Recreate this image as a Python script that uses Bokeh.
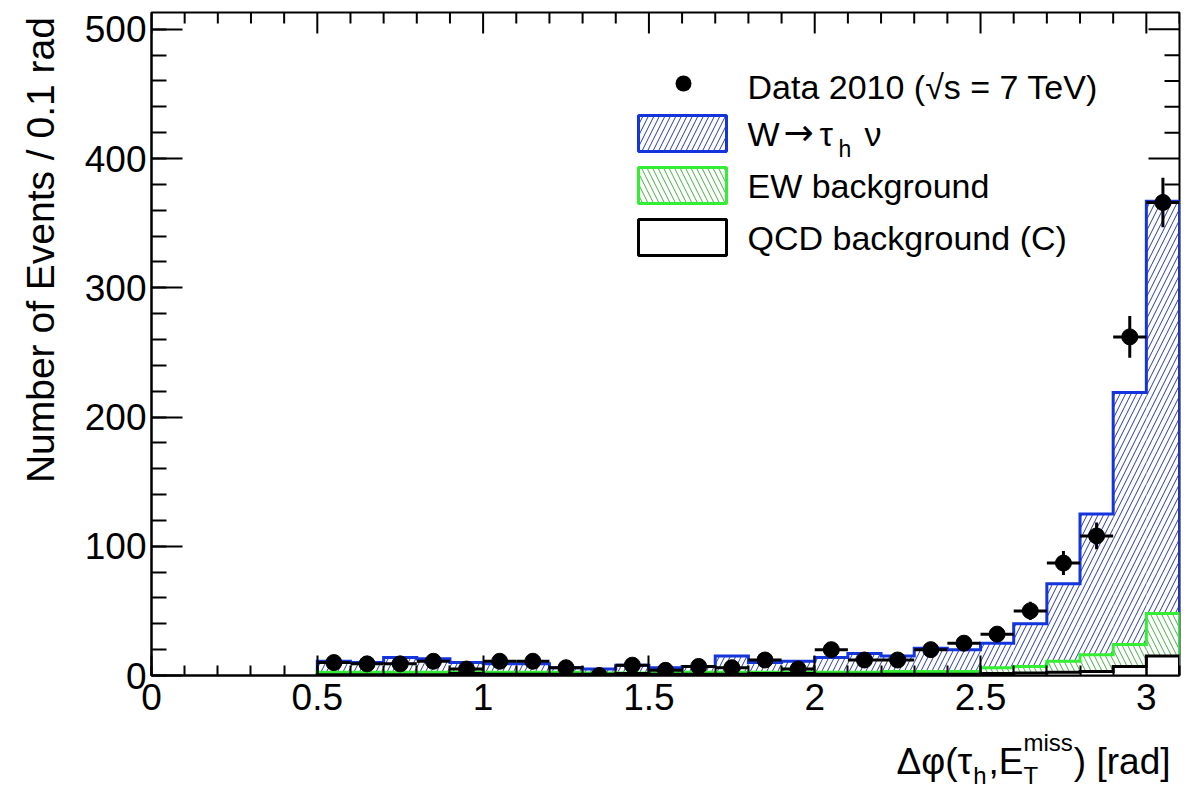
import numpy as np
from bokeh.plotting import figure
from bokeh.layouts import column, row
from bokeh.models import (Range1d, FixedTicker, NumeralTickFormatter, Label,
                          BoxAnnotation)
from bokeh.core.properties import value
from bokeh.embed import file_html
from bokeh.resources import INLINE

# ---------------- data ----------------
bin_edges = [0.5, 0.6, 0.7, 0.8, 0.9, 1.0, 1.1, 1.2, 1.3, 1.4, 1.5, 1.6, 1.7, 1.8,
             1.9, 2.0, 2.1, 2.2, 2.3, 2.4, 2.5, 2.6, 2.7, 2.8, 2.9, 3.0, 3.1]
qcd_bkg = [0.5, 0.5, 0.5, 0.5, 1.5, 1.0, 1.0, 1.0, 1.0, 1.5, 1.0, 1.0, 1.0,
           1.5, 1.5, 1.0, 1.0, 1.0, 1.0, 1.0, 1.5, 2.0, 2.5, 3.0, 7.0, 15.0]
ew_bkg = [2.0, 2.0, 2.0, 2.0, 1.0, 1.5, 1.5, 1.5, 1.0, 0.5, 1.0, 1.5, 1.5,
          1.0, 1.0, 1.5, 1.5, 2.0, 2.0, 2.0, 4.5, 5.0, 8.5, 13.0, 17.0, 33.0]
w_taunu = [8.5, 7.5, 11.5, 10.5, 7.5, 6.5, 6.5, 3.5, 3.0, 6.0, 4.0, 4.5, 12.5,
           7.5, 8.5, 11.5, 14.5, 12.0, 18.0, 17.0, 19.0, 33.0, 60.0, 109.0, 195.0, 319.0]
data_2010 = [10, 9, 9, 11, 5, 11, 11, 6, 0, 8, 4, 7, 6, 12, 5, 20, 12, 12, 20,
             25, 32, 50, 87, 108, 262, 366]

x_major_ticks = [0, 0.5, 1.0, 1.5, 2.0, 2.5, 3.0]
y_major_ticks = [0, 100, 200, 300, 400, 500]

legend_data = "Data 2010 (\u221as = 7 TeV)"
legend_w = ["W", "\u2192", "\u03c4", "h", "\u03bd"]
legend_ew = "EW background"
legend_qcd = "QCD background (C)"
y_title = "Number of Events / 0.1 rad"
x_title = ["\u0394\u03c6(\u03c4", "h", ",E", "T", "miss", ") [rad]"]

# ---------------- derived ----------------
edges = np.array(bin_edges)
lo, hi = edges[:-1], edges[1:]
centers = 0.5 * (lo + hi)
s_qcd = np.array(qcd_bkg)
s_ew = s_qcd + np.array(ew_bkg)
s_tot = s_ew + np.array(w_taunu)
d = np.array(data_2010, dtype=float)
derr = np.sqrt(d)


def step_path(vals):
    xs, ys = [edges[0]], [0.0]
    for i, v in enumerate(vals):
        xs += [edges[i], edges[i + 1]]
        ys += [v, v]
    xs.append(edges[-1])
    ys.append(0.0)
    return xs, ys


FONT = "Liberation Sans"
BLUE = "#1434dc"
BLUE_H = "#2a3a9c"
GREEN = "#33ee33"
GREEN_H = "#45b045"

# layout in canvas pixels
W, H_MAIN, H_XT, W_YT = 1201, 730, 60, 70
FL, FR, FT, FB = 151, 1179, 12, 675
XMAX, YMAX = 3.1, 513.0


def bare_strip(w, h, xr, yr):
    f = figure(width=w, height=h, x_range=xr, y_range=yr, output_backend="svg",
               toolbar_location=None, title_location=None, min_border=0,
               x_axis_location=None, y_axis_location=None)
    f.grid.visible = False
    f.outline_line_color = None
    f.background_fill_color = "white"
    f.border_fill_color = "white"
    return f


p = figure(width=W - W_YT, height=H_MAIN, x_range=Range1d(0, XMAX), y_range=Range1d(0, YMAX),
           output_backend="svg", toolbar_location=None, title_location=None,
           min_border_left=FL - W_YT, min_border_right=W - FR,
           min_border_top=FT, min_border_bottom=H_MAIN - FB)
p.xgrid.visible = False
p.ygrid.visible = False
p.outline_line_color = "black"
p.outline_line_width = 2
p.background_fill_color = "white"
p.border_fill_color = "white"

x_minor = list(np.round(np.arange(0, XMAX + 0.01, 0.1), 2))
y_minor = list(range(0, 520, 20))
xticker = FixedTicker(ticks=x_major_ticks, minor_ticks=x_minor)
yticker = FixedTicker(ticks=y_major_ticks, minor_ticks=y_minor)


def style_axis(ax, major_in, minor_in):
    ax.major_tick_in = major_in
    ax.major_tick_out = 0
    ax.minor_tick_in = minor_in
    ax.minor_tick_out = 0
    ax.axis_line_width = 2
    ax.axis_line_color = "black"
    ax.major_tick_line_width = 2
    ax.minor_tick_line_width = 2
    ax.major_tick_line_color = "black"
    ax.minor_tick_line_color = "black"
    ax.major_label_text_font = FONT
    ax.major_label_text_font_size = "37px"
    ax.major_label_text_color = "black"


xb = p.below[0]
xb.ticker = xticker
xb.formatter = NumeralTickFormatter(format="0.[0]")
style_axis(xb, 20, 10)
xb.major_label_standoff = 8

yl = p.left[0]
yl.ticker = yticker
style_axis(yl, 31, 15)
yl.major_label_standoff = 5

# ticks on top and right edges (pixel lengths converted to data units)
dx_px = XMAX / (FR - FL)
dy_px = YMAX / (FB - FT)
x_min_only = [t for t in x_minor if min(abs(t - m) for m in x_major_ticks) > 1e-6]
y_min_only = [t for t in y_minor if t not in y_major_ticks]
p.segment(x0=x_major_ticks, x1=x_major_ticks, y0=[YMAX] * len(x_major_ticks),
          y1=[YMAX - 21 * dy_px] * len(x_major_ticks), line_color="black", line_width=2)
p.segment(x0=x_min_only, x1=x_min_only, y0=[YMAX] * len(x_min_only),
          y1=[YMAX - 11 * dy_px] * len(x_min_only), line_color="black", line_width=2)
p.segment(x0=[XMAX] * len(y_major_ticks), x1=[XMAX - 31 * dx_px] * len(y_major_ticks),
          y0=y_major_ticks, y1=y_major_ticks, line_color="black", line_width=2)
p.segment(x0=[XMAX] * len(y_min_only), x1=[XMAX - 15 * dx_px] * len(y_min_only),
          y0=y_min_only, y1=y_min_only, line_color="black", line_width=2)

# ---------------- histograms ----------------
bottom0 = np.zeros_like(lo)
p.quad(left=lo, right=hi, bottom=bottom0, top=s_tot, fill_color="white", fill_alpha=1,
       line_alpha=0, hatch_pattern="/", hatch_color=BLUE_H, hatch_scale=11, hatch_weight=1)
bx, by = step_path(s_tot)
p.line(bx, by, line_color=BLUE, line_width=3, line_join="miter")

p.quad(left=lo, right=hi, bottom=bottom0, top=s_ew, fill_color="white", fill_alpha=1,
       line_alpha=0, hatch_pattern="\\", hatch_color=GREEN_H, hatch_scale=11, hatch_weight=1)
gx, gy = step_path(s_ew)
p.line(gx, gy, line_color=GREEN, line_width=3, line_join="miter")

p.quad(left=lo, right=hi, bottom=bottom0, top=s_qcd, fill_color="white", fill_alpha=1,
       line_alpha=0)
qx, qy = step_path(s_qcd)
p.line(qx, qy, line_color="black", line_width=3, line_join="miter")

# ---------------- data points ----------------
p.segment(x0=lo, x1=hi, y0=d, y1=d, line_color="black", line_width=3)
p.segment(x0=centers, x1=centers, y0=d - derr, y1=d + derr, line_color="black", line_width=3)
p.scatter(centers, d, size=16, marker="circle", fill_color="black", line_color="black")


# ---------------- legend (layout in canvas px -> frame screen) ----------------
def fx(cx):
    return cx - FL


def fy(cy):
    return FB - cy


def lab(text, cx, cy, size, align="left", baseline="middle", font=FONT):
    p.add_layout(Label(x=fx(cx), y=fy(cy), x_units="screen", y_units="screen", text=text,
                       text_font=font, text_font_size=f"{size}px", text_color="black",
                       text_align=align, text_baseline=baseline))


TX = 747
rows = [86, 133, 185, 237]
LS = 34
p.add_layout(BoxAnnotation(left=fx(675), right=fx(691), top=fy(75), bottom=fy(91),
                           left_units="screen", right_units="screen", top_units="screen",
                           bottom_units="screen", fill_color="black", fill_alpha=1,
                           line_alpha=0, border_radius=8))
lab(legend_data, TX, rows[0], LS)

box_specs = [
    (rows[1], BLUE, "/", BLUE_H),
    (rows[2], GREEN, "\\", GREEN_H),
    (rows[3], "black", None, None),
]
for cy, lc, hp, hc in box_specs:
    kw = dict(left=fx(638), right=fx(726), top=fy(cy - 18), bottom=fy(cy + 18),
              left_units="screen", right_units="screen", top_units="screen",
              bottom_units="screen", fill_color="white", fill_alpha=1,
              line_color=lc, line_width=3, line_alpha=1)
    if hp:
        kw.update(hatch_pattern=hp, hatch_color=hc, hatch_scale=11, hatch_weight=1)
    p.add_layout(BoxAnnotation(**kw))

lab(legend_w[0], TX, rows[1], LS)
lab(legend_w[1], 783, rows[1] - 1, 36, font="DejaVu Sans")
lab(legend_w[2], 819, rows[1], LS)
lab(legend_w[3], 838, rows[1] + 15, 23)
lab(legend_w[4], 864, rows[1], LS)
lab(legend_ew, TX, rows[2], LS)
lab(legend_qcd, TX, rows[3], LS)

# ---------------- y-axis title (strip on the left) ----------------
py = bare_strip(W_YT, H_MAIN, Range1d(0, W_YT), Range1d(H_MAIN, 0))
py.text(x=[40], y=[5], text=[y_title], angle=np.pi / 2, text_font=value(FONT),
        text_font_size=value("39px"), text_color="black", text_align="right",
        text_baseline="middle")

# ---------------- x-axis title (strip below) ----------------
pt = bare_strip(W, H_XT, Range1d(0, W), Range1d(H_MAIN + H_XT, H_MAIN))

ADV = {'h': .556, ',': .278, 'E': .667, 'T': .611, 'm': .833, 'i': .222, 's': .5,
       ')': .333, ' ': .278, '[': .278, ']': .278, 'r': .333, 'a': .556, 'd': .556}


def tw(s, size):
    return sum(ADV.get(c, .556) for c in s) * size


MS, SS = 37, 24
R = 1170
Y_MAIN, Y_SUB, Y_SUP = 761, 775, 742      # vertical centres of the text rows
x_r = R - tw(x_title[5], MS)            # ") [rad]" left edge
x_sup = x_r - 1 - tw(x_title[4], SS)    # "miss" / "T" left edge
x_cE = x_sup                            # ",E" right edge
x_h = x_cE - tw(x_title[2], MS) - 2     # "h" right edge
x_l = x_h - tw("h", SS) - 1             # "Δφ(τ" right edge

pieces = [
    (x_title[0], x_l, Y_MAIN, MS, "right"),
    (x_title[1], x_h, Y_SUB, SS, "right"),
    (x_title[2], x_cE, Y_MAIN, MS, "right"),
    (x_title[3], x_sup, Y_SUB, SS, "left"),
    (x_title[4], x_sup, Y_SUP, SS, "left"),
    (x_title[5], x_r, Y_MAIN, MS, "left"),
]
for t, x, y, s, a in pieces:
    pt.text(x=[x], y=[y], text=[t], text_font=value(FONT), text_font_size=value(f"{s}px"),
            text_color="black", text_align=a, text_baseline="middle")

layout = column(row(py, p, spacing=0), pt, spacing=0)
open("out.html", "w").write(file_html(layout, INLINE))
